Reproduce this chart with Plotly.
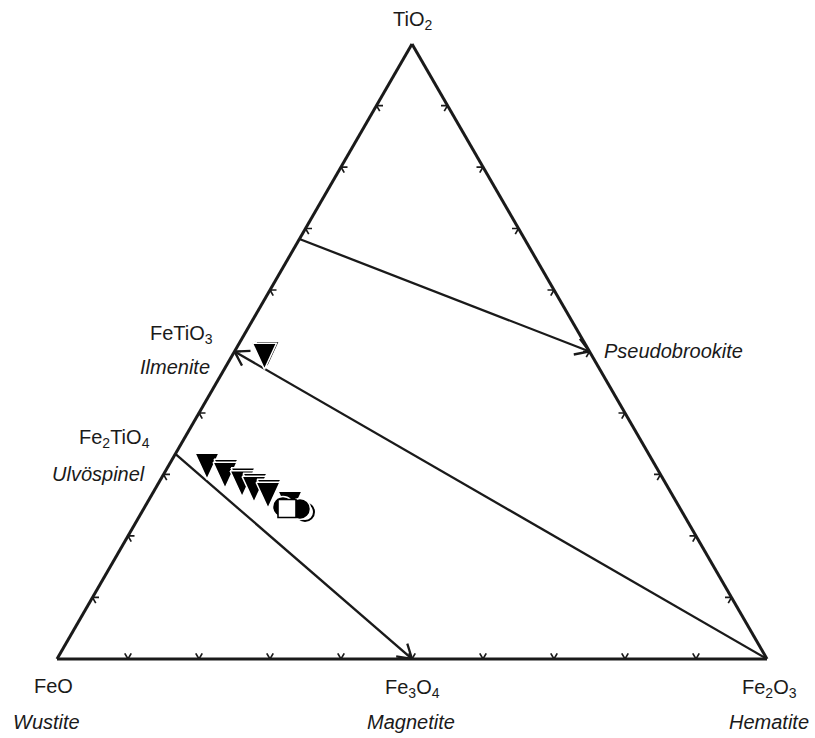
import math
import plotly.graph_objects as go

# End-member compositions as mole fractions (TiO2, FeO, Fe2O3)
phase_names = ["FeO", "Fe3O4", "Fe2O3", "FeTiO3", "Fe2TiO4", "Fe2TiO5", "FeTi2O5", "TiO2"]
phase_tio2 = [0.0, 0.0, 0.0, 0.5, 1 / 3, 0.5, 0.683, 1.0]
phase_feo = [1.0, 0.5, 0.0, 0.5, 2 / 3, 0.0, 0.317, 0.0]
phase_fe2o3 = [0.0, 0.5, 1.0, 0.0, 0.0, 0.5, 0.0, 0.0]

# Solid-solution joins, arrowhead at the second phase
join_start = ["Fe2TiO4", "Fe2O3", "FeTi2O5"]
join_end = ["Fe3O4", "FeTiO3", "Fe2TiO5"]

# Analyses drawn as inverted triangles, in drawing order
tri_tio2 = [0.5024, 0.4992, 0.3203, 0.3106, 0.3057, 0.2967, 0.2919, 0.2878, 0.2829, 0.2780, 0.2732, 0.2585]
tri_feo = [0.4523, 0.4582, 0.6286, 0.6067, 0.6105, 0.5897, 0.5934, 0.5772, 0.5811, 0.5624, 0.5662, 0.5426]
tri_fe2o3 = [0.0453, 0.0426, 0.0511, 0.0827, 0.0838, 0.1136, 0.1147, 0.1350, 0.1360, 0.1596, 0.1606, 0.1989]

# Analyses drawn as open circle, filled circles and square
ring_tio2 = [0.2390]
ring_feo = [0.5312]
ring_fe2o3 = [0.2298]
circ_tio2 = [0.2439, 0.2472]
circ_feo = [0.5358, 0.5581]
circ_fe2o3 = [0.2203, 0.1947]
sq_tio2 = [0.2447]
sq_feo = [0.5537]
sq_fe2o3 = [0.2016]

tick_values = [0.1, 0.2, 0.3, 0.4, 0.5, 0.6, 0.7, 0.8, 0.9]

W, H = 815, 738
SIDE_PX = 710.0
SQ3 = math.sqrt(3)
INK = "#1a1a1a"
FONT = "Liberation Sans"

phase = {n: (a, b, c) for n, a, b, c in zip(phase_names, phase_tio2, phase_feo, phase_fe2o3)}


def to_xy(a, b, c):
    return c + a / 2, a * SQ3 / 2


def to_abc(x, y):
    a = 2 * y / SQ3
    c = x - a / 2
    return a, 1 - a - c, c


fig = go.Figure()

# small inward ticks along both grid directions at every tenth
ta, tb, tc = [], [], []
s = 6.5 / SIDE_PX
for t in tick_values:
    pts = [
        ((0, 1 - t, t), (s, 1 - t, t - s), (s, 1 - t - s, t)),          # FeO–Fe2O3 side
        ((t, 1 - t, 0), (t, 1 - t - s, s), (t - s, 1 - t, s)),          # FeO–TiO2 side
        ((t, 0, 1 - t), (t, s, 1 - t - s), (t - s, s, 1 - t)),          # TiO2–Fe2O3 side
    ]
    for p, e1, e2 in pts:
        for q in (e1, p, e2):
            ta.append(q[0]); tb.append(q[1]); tc.append(q[2])
        ta.append(None); tb.append(None); tc.append(None)
fig.add_trace(go.Scatterternary(a=ta, b=tb, c=tc, mode="lines",
                                line=dict(color=INK, width=1.7), hoverinfo="skip"))

# joins with open arrowheads
arm = 16.0 / SIDE_PX
half = math.radians(32)
ja, jb, jc = [], [], []
for p0, p1 in zip(join_start, join_end):
    A, B = phase[p0], phase[p1]
    for q in (A, B):
        ja.append(q[0]); jb.append(q[1]); jc.append(q[2])
    ja.append(None); jb.append(None); jc.append(None)
    x0, y0 = to_xy(*A)
    x1, y1 = to_xy(*B)
    ang = math.atan2(y0 - y1, x0 - x1)
    heads = []
    for sgn in (1, -1):
        heads.append(to_abc(x1 + arm * math.cos(ang + sgn * half), y1 + arm * math.sin(ang + sgn * half)))
    for q in (heads[0], B, heads[1]):
        ja.append(q[0]); jb.append(q[1]); jc.append(q[2])
    ja.append(None); jb.append(None); jc.append(None)
fig.add_trace(go.Scatterternary(a=ja, b=jb, c=jc, mode="lines",
                                line=dict(color=INK, width=2.3), hoverinfo="skip"))

# inverted triangles as filled outlines
TW, TH = 24.0, 26.0
offs = [(-TW / 2, TH / 3), (TW / 2, TH / 3), (0, -2 * TH / 3)]
for a, b, c in zip(tri_tio2, tri_feo, tri_fe2o3):
    cx, cy = to_xy(a, b, c)
    va, vb, vc = [], [], []
    for dx, dy in offs + offs[:1]:
        q = to_abc(cx + dx / SIDE_PX, cy + dy / SIDE_PX)
        va.append(q[0]); vb.append(q[1]); vc.append(q[2])
    fig.add_trace(go.Scatterternary(a=va, b=vb, c=vc, mode="lines", fill="toself",
                                    fillcolor="black", line=dict(color="white", width=1.5),
                                    hoverinfo="skip"))

fig.add_trace(go.Scatterternary(a=ring_tio2, b=ring_feo, c=ring_fe2o3, mode="markers",
                                marker=dict(symbol="circle-open", size=18, color="black",
                                            line=dict(color="black", width=2)),
                                hoverinfo="skip"))
fig.add_trace(go.Scatterternary(a=circ_tio2, b=circ_feo, c=circ_fe2o3, mode="markers",
                                marker=dict(symbol="circle", size=21, color="black",
                                            line=dict(color="white", width=1.5)),
                                hoverinfo="skip"))
fig.add_trace(go.Scatterternary(a=sq_tio2, b=sq_feo, c=sq_fe2o3, mode="markers",
                                marker=dict(symbol="square", size=18, color="white",
                                            line=dict(color="black", width=1.6)),
                                hoverinfo="skip"))

axis_style = dict(title=dict(text=""), showticklabels=False, ticks="", showgrid=False,
                  showline=True, linecolor=INK, linewidth=3, min=0)


def note(text, x, y, anchor):
    return dict(text=text, x=x / W, y=1 - y / H, xref="paper", yref="paper",
                xanchor=anchor, yanchor="middle", showarrow=False,
                font=dict(family=FONT, size=20, color=INK))


annotations = [
    note("TiO<sub>2</sub>", 412, 20, "center"),
    note("FeO", 53, 686, "center"),
    note("<i>Wustite</i>", 46, 722, "center"),
    note("Fe<sub>3</sub>O<sub>4</sub>", 412, 688, "center"),
    note("<i>Magnetite</i>", 411, 722, "center"),
    note("Fe<sub>2</sub>O<sub>3</sub>", 769, 688, "center"),
    note("<i>Hematite</i>", 769, 722, "center"),
    note("FeTiO<sub>3</sub>", 215, 334, "right"),
    note("<i>Ilmenite</i>", 212, 367, "right"),
    note("Fe<sub>2</sub>TiO<sub>4</sub>", 152, 439, "right"),
    note("<i>Ulvöspinel</i>", 147, 474, "right"),
    note("<i>Pseudobrookite</i>", 602, 351, "left"),
]

fig.update_layout(
    width=W, height=H,
    margin=dict(l=0, r=0, t=0, b=0),
    paper_bgcolor="white",
    showlegend=False,
    ternary=dict(
        sum=1,
        domain=dict(x=[57 / W, 767 / W], y=[79 / H, 694 / H]),
        bgcolor="white",
        aaxis=axis_style, baxis=axis_style, caxis=axis_style,
    ),
    annotations=annotations,
)

fig.write_html("out.html")
